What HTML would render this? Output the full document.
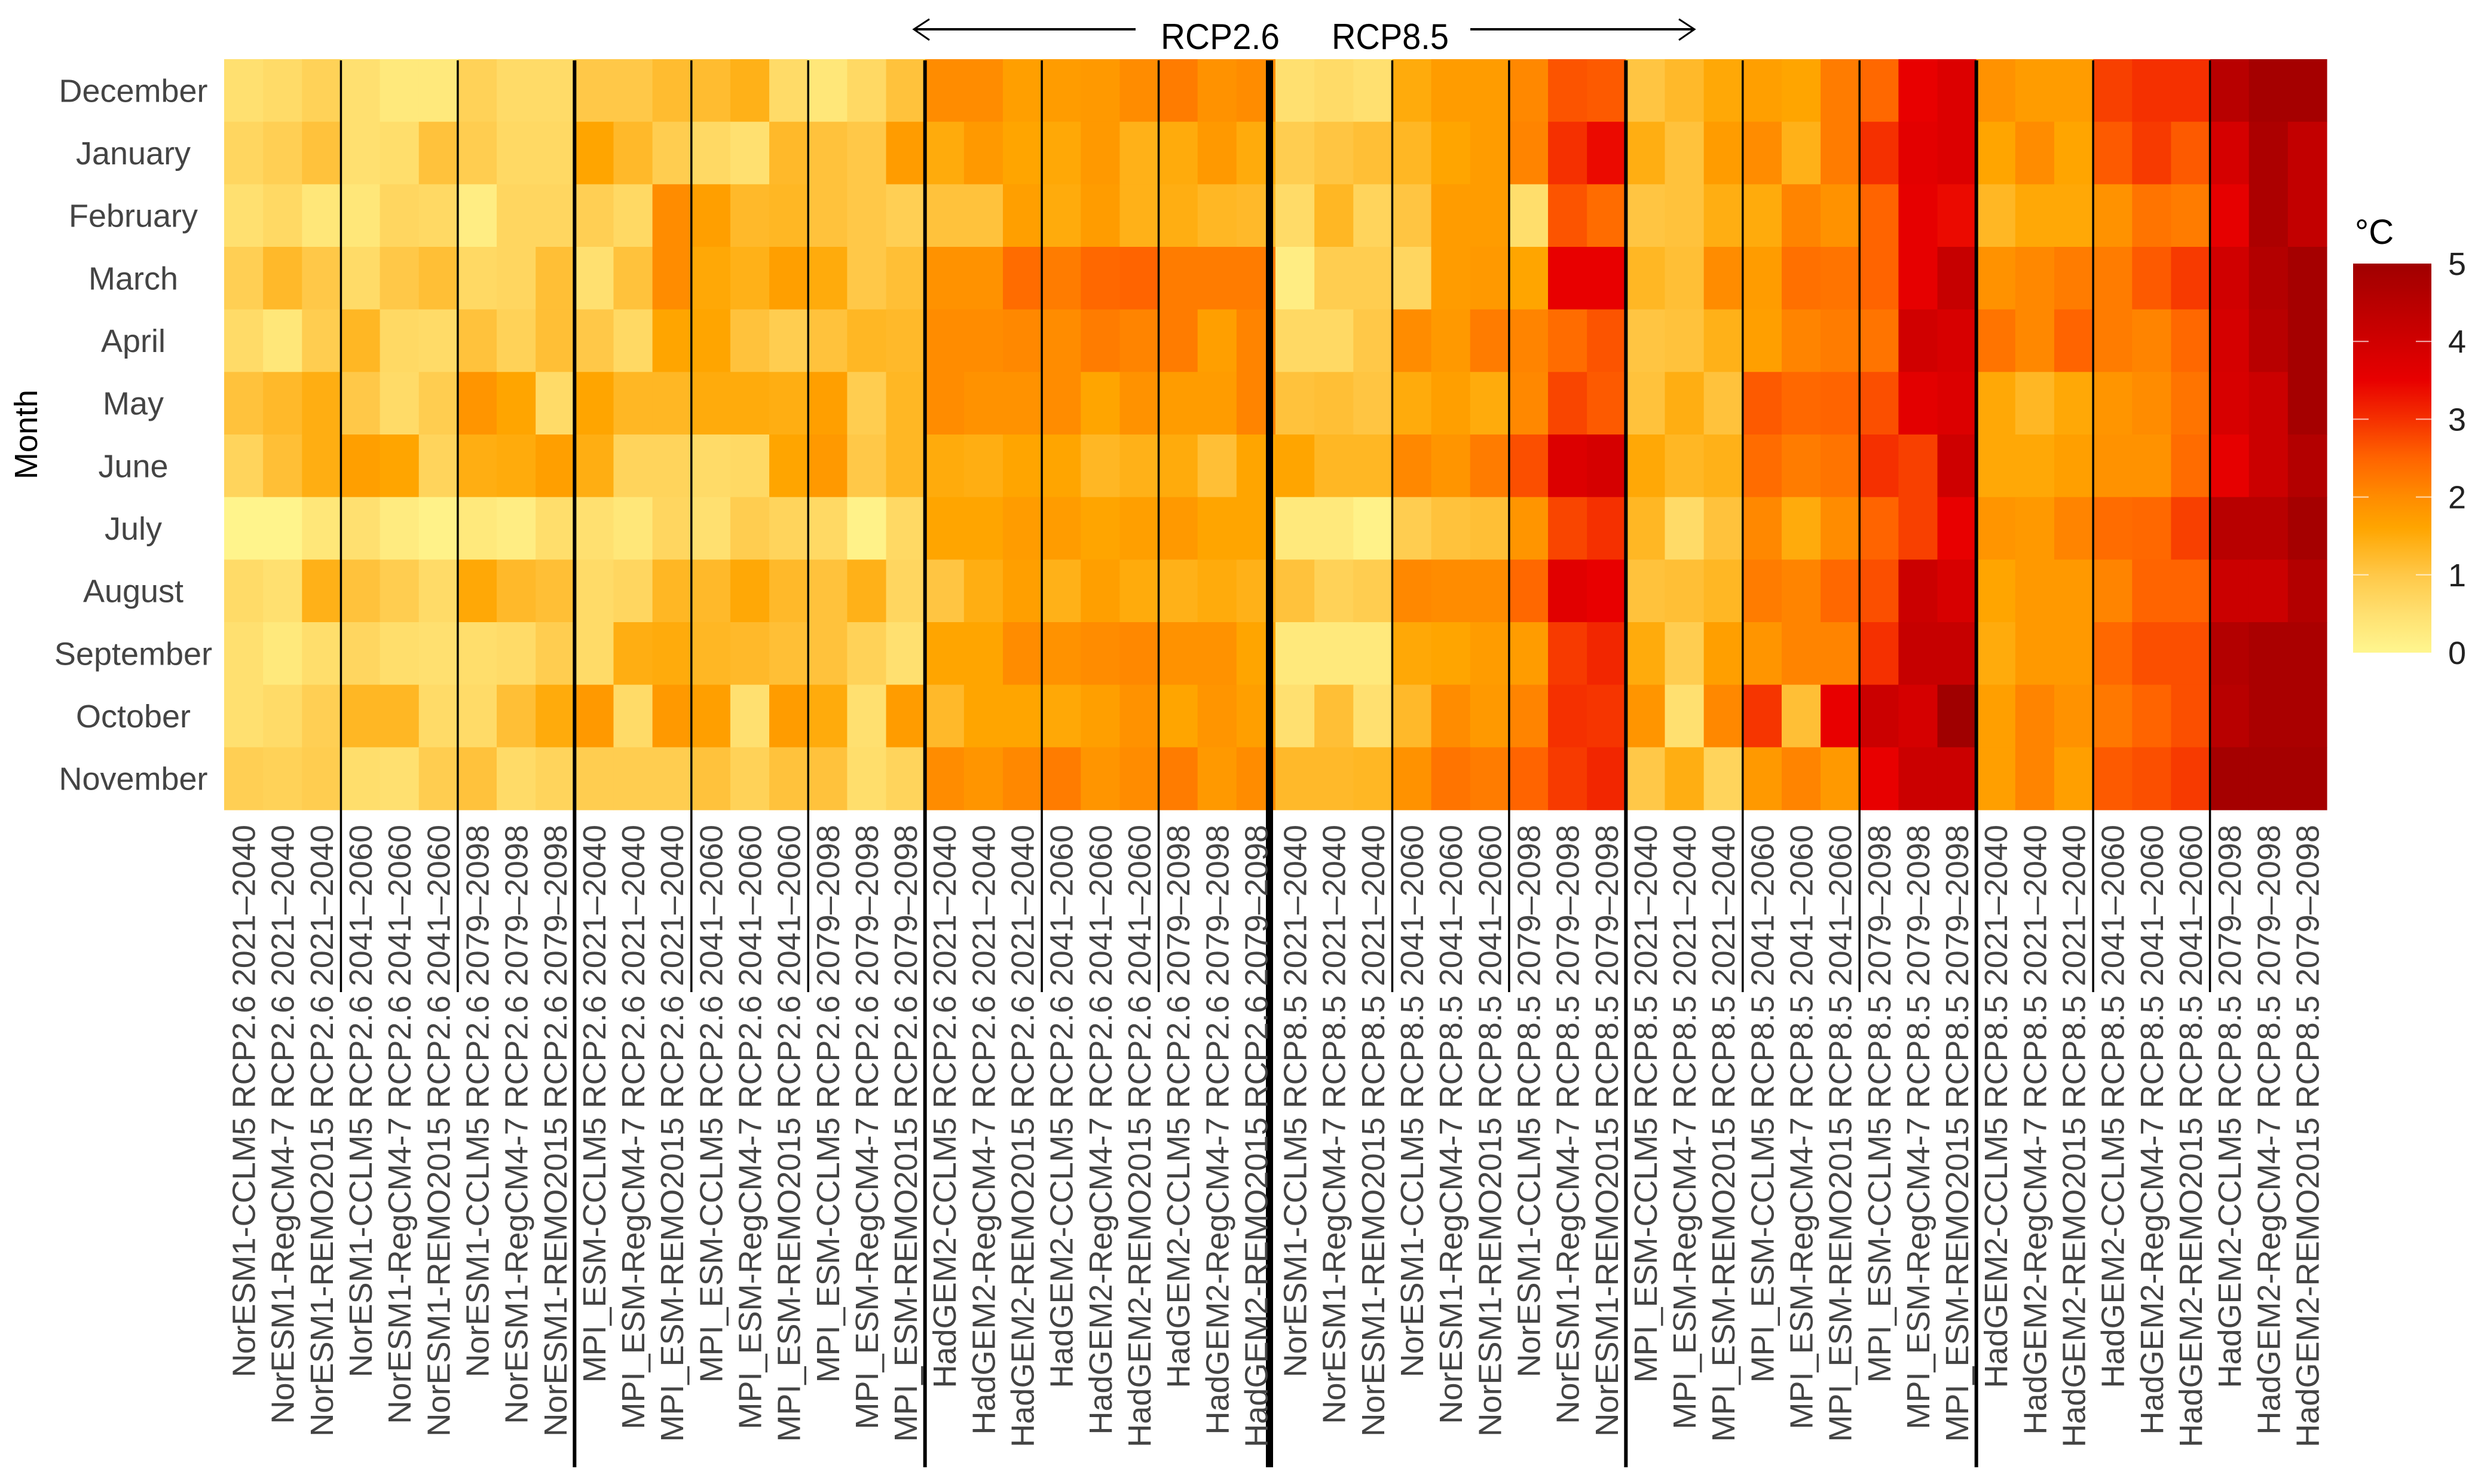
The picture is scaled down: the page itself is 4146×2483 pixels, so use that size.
<!DOCTYPE html>
<html><head><meta charset="utf-8">
<style>
html,body{margin:0;padding:0;background:#fff;}
svg{display:block;}
text{font-family:"Liberation Sans",sans-serif;}
</style></head>
<body>
<svg id="chart" width="4146" height="2483" viewBox="0 0 4146 2483" xmlns="http://www.w3.org/2000/svg">
  <g id="cells"></g>
  <g id="sepLines"></g>
  <g id="monthLabels"></g>
  <g id="colLabels"></g>
  <text x="0" y="0" transform="translate(62,727) rotate(-90)" text-anchor="middle" font-size="54" fill="#000">Month</text>
  <g>
    <line x1="1530" y1="49" x2="1900" y2="49" stroke="#000" stroke-width="4"/>
    <polyline points="1555,32 1529,49 1555,67" fill="none" stroke="#000" stroke-width="3"/>
    <text x="1942" y="82" font-size="60" fill="#000" textLength="199" lengthAdjust="spacingAndGlyphs">RCP2.6</text>
    <text x="2228" y="82" font-size="60" fill="#000" textLength="196" lengthAdjust="spacingAndGlyphs">RCP8.5</text>
    <line x1="2460" y1="49" x2="2834" y2="49" stroke="#000" stroke-width="4"/>
    <polyline points="2809,32 2835,49 2809,67" fill="none" stroke="#000" stroke-width="3"/>
  </g>
  <g id="legend">
    <defs>
      <linearGradient id="cbGrad" x1="0" y1="1" x2="0" y2="0"></linearGradient>
    </defs>
    <text x="3940" y="408" font-size="58" fill="#000">°C</text>
    <rect x="3937" y="441" width="131" height="651" fill="url(#cbGrad)"/>
    <g id="cbTicks"></g>
  </g>
</svg>
<script>
// ---- data ----
const months = ["December","January","February","March","April","May","June","July","August","September","October","November"];
const rcps = ["RCP2.6","RCP8.5"];
const gcms = ["NorESM1","MPI_ESM","HadGEM2"];
const periods = ["2021\u20132040","2041\u20132060","2079\u20132098"];
const rcms = ["CCLM5","RegCM4-7","REMO2015"];
const legendTicks = [0,1,2,3,4,5];

const decVals = [0.5,0.6,0.8,0.5,0.3,0.3,0.8,0.6,0.6,1.0,1.0,1.2,1.2,1.4, 0.6,0.35,0.65,1.1,2.0,2.0,1.7,1.75,1.8,2.0,2.2,1.9,2.0, 0.5,0.6,0.5,1.5,1.75,1.75,2.05,2.65,2.6,1.05,1.25,1.55,1.7,1.6, 2.2,2.45,3.5,3.75,1.9,1.75,1.75,2.85,3.0,3.0,4.5,4.9,4.9];
const janVals = [0.7,0.85,1.1,0.5,0.55,1.1,0.9,0.65,0.65,1.6,1.25,0.9,0.65,0.5, 1.25,1.1,1.0,1.75,1.5,1.8,1.6,1.55,1.8,1.4,1.5,1.8,1.5, 0.9,1.05,1.15,1.3,1.6,1.75,2.1,3.0,3.4,1.45,1.1,1.75,2.0,1.4, 2.2,3.0,3.6,3.75,1.6,2.0,1.6,2.6,2.9,2.6,3.9,4.75,4.3];
const febVals = [0.5,0.65,0.35,0.35,0.7,0.65,0.2,0.7,0.7,0.85,0.65,2.0,1.7,1.25, 1.3,1.1,1.0,0.85,1.1,1.1,1.7,1.5,1.75,1.4,1.45,1.3,1.25, 0.6,1.3,0.75,1.05,1.75,1.75,0.55,2.65,2.4,1.05,1.1,1.45,1.5,2.1, 1.9,2.5,3.55,3.4,1.3,1.55,1.55,1.9,2.3,2.2,3.55,4.75,4.3];
const marVals = [0.85,1.25,1.0,0.6,1.0,1.15,0.65,0.7,1.15,0.5,1.1,2.0,1.55,1.4, 1.7,1.5,1.0,1.15,1.9,1.9,2.4,2.2,2.45,2.5,2.2,2.2,2.2, 0.2,0.9,0.9,0.7,1.75,1.8,1.6,3.5,3.5,1.3,1.15,2.0,1.75,2.35, 2.3,2.5,3.55,4.2,1.9,2.05,2.2,2.2,2.6,2.9,4.0,4.6,4.9];
const aprVals = [0.6,0.35,0.9,1.3,0.65,0.6,1.1,0.8,1.15,1.0,0.65,1.6,1.6,1.1, 0.9,1.1,1.3,1.25,2.0,2.0,2.05,2.0,2.2,2.1,2.2,1.7,2.1, 0.65,0.65,1.0,2.0,1.8,2.2,2.1,2.4,2.65,1.05,1.1,1.4,1.7,2.1, 2.2,2.3,4.0,3.85,2.3,2.05,2.5,2.2,2.1,2.45,3.9,4.5,4.9];
const mayVals = [1.1,1.25,1.45,1.0,0.6,0.9,1.85,1.6,0.6,1.6,1.3,1.3,1.5,1.5, 1.45,1.7,0.9,1.3,2.0,1.9,1.9,2.0,1.6,1.9,1.75,1.75,2.1, 1.1,1.15,1.05,1.5,1.7,1.5,2.05,2.8,2.6,1.1,1.45,1.1,2.6,2.45, 2.5,2.7,3.6,3.75,1.55,1.3,1.55,1.85,2.0,2.3,3.85,4.1,4.9];
const junVals = [0.75,1.15,1.45,1.7,1.6,0.75,1.45,1.5,1.7,1.45,0.75,0.75,0.6,0.65, 1.6,1.8,1.0,1.3,1.5,1.45,1.6,1.6,1.3,1.4,1.5,1.15,1.6, 1.6,1.3,1.3,2.05,1.85,2.2,2.7,3.75,3.9,1.55,1.3,1.4,2.4,2.2, 2.3,3.0,2.85,4.05,1.55,1.55,1.7,1.9,1.9,2.4,3.55,4.1,4.6];
const julVals = [0.05,0.05,0.35,0.5,0.25,0.1,0.3,0.2,0.55,0.5,0.35,0.7,0.5,0.9, 0.75,0.65,0.1,0.65,1.6,1.6,1.75,1.75,1.6,1.7,1.8,1.6,1.6, 0.3,0.3,0.1,0.9,1.1,1.15,1.85,2.8,3.0,1.3,0.6,1.1,2.05,1.5, 2.0,2.5,2.85,3.5,1.85,1.8,2.1,2.4,2.45,2.85,4.5,4.5,4.9];
const augVals = [0.6,0.5,1.4,1.1,0.9,0.6,1.55,1.25,1.15,0.6,0.7,1.3,1.25,1.55, 1.25,1.1,1.4,0.7,1.05,1.45,1.7,1.4,1.7,1.5,1.4,1.5,1.4, 1.1,0.8,0.9,2.05,2.0,2.0,2.45,3.65,3.5,1.1,1.15,1.3,2.2,2.1, 2.45,2.7,4.1,3.85,1.6,1.8,1.8,2.1,2.5,2.5,4.1,4.1,4.6];
const sepVals = [0.5,0.3,0.55,0.7,0.55,0.5,0.55,0.6,0.9,0.6,1.45,1.5,1.3,1.25, 1.15,1.1,0.8,0.5,1.6,1.6,2.0,1.9,2.0,2.05,1.9,1.9,1.6, 0.3,0.3,0.3,1.55,1.6,1.75,1.75,2.9,3.1,1.5,0.9,1.7,1.85,2.1, 2.1,3.0,4.2,4.2,1.5,1.8,1.8,2.45,2.7,2.7,4.6,4.8,4.8];
const octVals = [0.5,0.6,0.85,1.3,1.3,0.6,0.6,1.15,1.5,1.8,0.6,1.8,1.7,0.5, 1.75,1.5,0.5,1.75,1.25,1.6,1.6,1.55,1.7,1.9,1.6,1.85,1.7, 0.5,1.15,0.5,1.25,2.0,1.8,2.1,3.0,2.95,1.85,0.5,2.05,2.95,1.15, 3.5,4.1,3.9,5.0,1.7,2.1,1.9,2.25,2.5,2.7,4.5,4.8,4.8];
const novVals = [0.85,0.8,0.9,0.55,0.5,0.9,1.1,0.6,0.75,0.9,0.9,0.9,1.1,0.8, 1.1,1.1,0.55,0.75,2.0,1.85,2.05,2.2,1.85,2.0,2.2,1.8,2.0, 1.25,1.25,1.3,1.9,2.3,2.2,2.5,2.9,3.1,1.0,1.45,0.75,1.8,2.1, 1.8,3.5,4.1,4.1,1.7,2.1,1.7,2.6,2.7,2.9,4.9,4.9,4.9];
const monthValues = [decVals,janVals,febVals,marVals,aprVals,mayVals,junVals,julVals,augVals,sepVals,octVals,novVals];

// ---- scales ----
const NS = "http://www.w3.org/2000/svg";
const X0 = 375, X1 = 3893, Y0 = 99, Y1 = 1355;
const categories = [];
rcps.forEach(r => gcms.forEach(g => periods.forEach(p => rcms.forEach(m => categories.push(g + "-" + m + " " + r + " " + p)))));
const nCol = categories.length, nRow = months.length;
const colW = (X1 - X0) / nCol, rowH = (Y1 - Y0) / nRow;
function xScale(i){ return X0 + i * colW; }
function yScale(j){ return Y0 + j * rowH; }
const stops = [[0,[255,246,143]],[0.5,[255,224,112]],[1,[255,200,72]],[1.6,[255,165,0]],[2,[255,140,0]],[2.5,[255,100,0]],[3,[245,48,0]],[3.5,[232,0,0]],[4,[208,0,0]],[4.5,[184,0,0]],[5,[160,0,0]]];
function color(v){
  v = Math.max(0, Math.min(5, v));
  for (let k = 0; k < stops.length - 1; k++){
    const a = stops[k], b = stops[k+1];
    if (v <= b[0]){
      const t = (v - a[0]) / (b[0] - a[0]);
      const c = a[1].map((x, i) => Math.round(x + (b[1][i] - x) * t));
      return "rgb(" + c.join(",") + ")";
    }
  }
  return "rgb(160,0,0)";
}
function mk(tag, attrs, parent){
  const el = document.createElementNS(NS, tag);
  for (const k in attrs) el.setAttribute(k, attrs[k]);
  parent.appendChild(el);
  return el;
}

// ---- cells ----
const cellsG = document.getElementById("cells");
monthValues.forEach((row, j) => {
  row.forEach((v, i) => {
    const r = mk("rect", {x: xScale(i).toFixed(2), y: yScale(j).toFixed(2), width: (colW + 0.6).toFixed(2), height: (rowH + 0.6).toFixed(2), fill: color(v)}, cellsG);
    
    
  });
});

// ---- separator lines ----
const linesG = document.getElementById("sepLines");
for (let k = 3; k < nCol; k += 3){
  const isRcp = (k === 27);
  const isGcm = (k % 9 === 0);
  const w = isRcp ? 12 : (isGcm ? 6 : 3.5);
  const bottom = (isRcp || isGcm) ? 2455 : 1660;
  const x = xScale(k) - (isRcp ? 10 : 0);
  const ln = mk("line", {x1: x, y1: Y0 + 2, x2: x, y2: bottom, stroke: "#000", "stroke-width": w}, linesG);
  
  
}

// ---- month labels ----
const mG = document.getElementById("monthLabels");
months.forEach((m, j) => {
  const t = mk("text", {x: 223, y: (yScale(j) + rowH / 2 + 19).toFixed(1), "text-anchor": "middle", "font-size": 54, fill: "#444"}, mG);
  t.textContent = m;
  
  
});

// ---- column labels ----
const cG = document.getElementById("colLabels");
categories.forEach((c, i) => {
  const cx = xScale(i) + colW / 2 + 19;
  const t = mk("text", {x: 0, y: 0, transform: "translate(" + cx.toFixed(1) + ",1380) rotate(-90)", "text-anchor": "end", "font-size": 54, fill: "#444"}, cG);
  t.textContent = c;
  
  
});

// ---- colorbar ----
const grad = document.getElementById("cbGrad");
for (let s = 0; s <= 50; s++){
  const v = s / 10;
  mk("stop", {offset: (v / 5 * 100) + "%", "stop-color": color(v)}, grad);
}
const CB_TOP = 441, CB_BOT = 1092;
function cbY(v){ return CB_BOT - (CB_BOT - CB_TOP) * v / 5; }
const tG = document.getElementById("cbTicks");
legendTicks.forEach(v => {
  const y = cbY(v);
  if (v > 0 && v < 5){
    mk("line", {x1: 3937, y1: y, x2: 3963, y2: y, stroke: "#fff", "stroke-width": 2, opacity: 0.7}, tG);
    mk("line", {x1: 4042, y1: y, x2: 4068, y2: y, stroke: "#fff", "stroke-width": 2, opacity: 0.7}, tG);
  }
  const t = mk("text", {x: 4096, y: (y + 19).toFixed(1), "font-size": 54, fill: "#222"}, tG);
  t.textContent = String(v);
  
  
});
</script>
</body></html>
